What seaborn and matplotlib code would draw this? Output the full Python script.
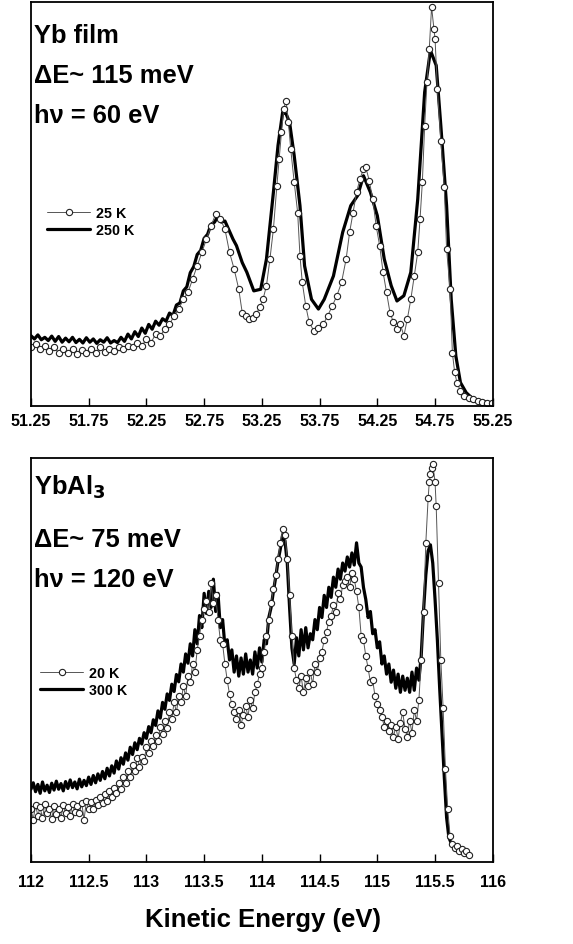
import numpy as np
import pandas as pd
import matplotlib
matplotlib.use("Agg")
import matplotlib.pyplot as plt
import seaborn as sns

# ---------------- data: Yb film (hv = 60 eV) ----------------
yb_e_250 = [51.25, 51.28, 51.31, 51.34, 51.37, 51.40, 51.43, 51.46, 51.49, 51.52,
            51.55, 51.58, 51.61, 51.64, 51.67, 51.70, 51.73, 51.76, 51.79, 51.82,
            51.85, 51.88, 51.91, 51.94, 51.97, 52.00, 52.03, 52.06, 52.09, 52.12,
            52.15, 52.18, 52.21, 52.24, 52.27, 52.30, 52.33, 52.36, 52.39, 52.42,
            52.45, 52.48, 52.51, 52.54, 52.57, 52.60, 52.63, 52.66, 52.69, 52.72,
            52.75, 52.78, 52.81, 52.84, 52.87, 52.90, 52.93,
            53.00, 53.03, 53.08,
            53.12, 53.18, 53.24, 53.29, 53.35, 53.39, 53.43, 53.46, 53.49, 53.53,
            53.58, 53.62, 53.68, 53.74, 53.79, 53.87, 53.95, 54.02, 54.08, 54.13,
            54.19, 54.25, 54.31, 54.37, 54.42, 54.48, 54.54, 54.60, 54.66, 54.71,
            54.76, 54.80, 54.85, 54.89, 54.93, 54.97, 55.02, 55.08, 55.24]
yb_i_250 = [17.4, 16.6, 17.6, 16.4, 17.0, 16.2, 17.3, 16.0, 17.2, 15.8,
            16.8, 15.9, 17.0, 15.7, 16.5, 15.6, 16.9, 15.8, 16.6, 15.5,
            16.4, 15.8, 16.9, 15.6, 16.2, 15.7, 17.0, 16.0, 17.8, 16.6,
            18.4, 17.2, 19.3, 18.0, 20.2, 19.0, 21.0, 20.0, 21.6, 21.0,
            23.0, 22.4, 25.0, 25.5, 28.5, 29.5, 33.0, 34.5, 37.5, 38.5,
            41.5, 42.5, 45.0, 45.5, 47.0, 45.5, 45.8,
            41.3, 39.7, 35.5,
            33.1, 28.5, 28.9, 36.4, 52.9, 64.5, 72.7, 72.3, 70.2, 62.0,
            49.6, 34.7, 26.4, 24.0, 26.4, 32.2, 43.0, 49.6, 52.1, 57.0,
            52.9, 47.1, 36.4, 29.8, 26.0, 27.3, 33.1, 51.2, 77.7, 88.0,
            84.3, 69.4, 49.6, 26.4, 12.4, 5.8, 3.3, 1.7, 0.7]

yb_e_25 = [51.25, 51.29, 51.33, 51.37, 51.41, 51.45, 51.49, 51.53, 51.57, 51.61,
           51.65, 51.69, 51.73, 51.77, 51.81, 51.85, 51.89, 51.93, 51.97, 52.01,
           52.05, 52.09, 52.13, 52.17, 52.21, 52.25, 52.29, 52.33, 52.37, 52.41,
           52.45, 52.49, 52.53, 52.57, 52.61, 52.65, 52.69, 52.73, 52.77, 52.81,
           52.85, 52.89, 52.93, 52.97, 53.01, 53.05, 53.08, 53.11, 53.14, 53.17,
           53.20, 53.23, 53.26, 53.29, 53.32, 53.35, 53.38, 53.40, 53.42, 53.44,
           53.46, 53.48, 53.50, 53.53, 53.56, 53.58, 53.60, 53.63, 53.66, 53.70,
           53.74, 53.78, 53.82, 53.86, 53.90, 53.94, 53.98, 54.01, 54.04, 54.07,
           54.10, 54.13, 54.15, 54.18, 54.21, 54.24, 54.27, 54.30, 54.33, 54.36,
           54.39, 54.42, 54.45, 54.48, 54.51, 54.54, 54.57, 54.60, 54.62, 54.64,
           54.66, 54.68, 54.70, 54.72, 54.74, 54.75, 54.77, 54.80, 54.83, 54.85,
           54.88, 54.90, 54.92, 54.94, 54.97, 55.00, 55.04, 55.08, 55.12, 55.16,
           55.20, 55.24]
yb_i_25 = [14.5, 15.3, 14.0, 14.9, 13.6, 14.5, 13.2, 14.2, 13.1, 14.0,
           12.8, 13.9, 13.2, 14.0, 13.1, 14.5, 13.4, 14.2, 13.6, 14.5,
           14.0, 14.9, 14.5, 15.7, 14.9, 16.5, 15.7, 17.8, 17.4, 19.0,
           20.2, 22.3, 24.0, 26.4, 28.1, 31.4, 34.7, 38.0, 41.3, 44.6,
           47.5, 46.3, 43.8, 38.0, 33.9, 28.9, 23.1, 22.3, 21.5, 21.9,
           22.7, 24.4, 26.4, 29.8, 36.4, 43.8, 54.5, 61.2, 67.8, 73.6,
           75.6, 70.2, 63.6, 55.4, 47.9, 37.2, 30.6, 24.8, 20.7, 18.6,
           19.4, 20.2, 22.3, 24.8, 27.3, 30.6, 36.4, 43.0, 47.9, 52.9,
           56.2, 58.7, 59.1, 55.8, 51.2, 44.6, 39.7, 33.1, 28.1, 23.1,
           20.7, 19.0, 20.2, 17.4, 21.5, 26.4, 32.2, 38.0, 46.3, 55.4,
           69.4, 80.2, 88.4, 98.8, 93.4, 90.9, 78.5, 65.7, 54.1, 38.8,
           28.9, 13.2, 8.3, 5.8, 3.7, 2.5, 2.1, 1.7, 1.2, 1.0,
           0.8, 0.7]

# ---------------- data: YbAl3 (hv = 120 eV) ----------------
al_e_300 = [112.00, 112.02, 112.04, 112.06, 112.08, 112.10, 112.12, 112.14, 112.16, 112.18,
            112.20, 112.22, 112.24, 112.26, 112.28, 112.30, 112.32, 112.34, 112.36, 112.38,
            112.40, 112.42, 112.44, 112.46, 112.48, 112.50, 112.52, 112.54, 112.56, 112.58,
            112.60, 112.62, 112.64, 112.66, 112.68, 112.70, 112.72, 112.74, 112.76, 112.78,
            112.80, 112.82, 112.84, 112.86, 112.88, 112.90, 112.92, 112.94, 112.96, 112.98,
            113.00, 113.02, 113.04, 113.06, 113.08, 113.10, 113.12, 113.14, 113.16, 113.18,
            113.20, 113.22, 113.24, 113.26, 113.28, 113.30, 113.32, 113.34, 113.36, 113.38,
            113.40, 113.42, 113.44, 113.46, 113.48, 113.50, 113.52, 113.54, 113.56, 113.58,
            113.60, 113.62, 113.64, 113.66, 113.68, 113.70, 113.72, 113.74, 113.76, 113.78,
            113.80, 113.82, 113.84, 113.86, 113.88, 113.90, 113.92, 113.94, 113.96, 113.98,
            114.00, 114.02, 114.04, 114.06, 114.08, 114.10, 114.12, 114.14, 114.16, 114.18,
            114.20, 114.22, 114.24, 114.26, 114.28, 114.30, 114.32, 114.34, 114.36, 114.38,
            114.40, 114.42, 114.44, 114.46, 114.48, 114.50, 114.52, 114.54, 114.56, 114.58,
            114.60, 114.62, 114.64, 114.66, 114.68, 114.70, 114.72, 114.74, 114.76, 114.78,
            114.80, 114.82, 114.84, 114.86, 114.88, 114.90, 114.92, 114.94, 114.96, 114.98,
            115.00, 115.02, 115.04, 115.06, 115.08, 115.10, 115.12, 115.14, 115.16, 115.18,
            115.20, 115.22, 115.24, 115.26, 115.28, 115.30, 115.32, 115.34, 115.36, 115.38,
            115.40, 115.42, 115.44, 115.46, 115.48, 115.50, 115.52, 115.54, 115.56, 115.58,
            115.60, 115.62, 115.65, 115.68, 115.71, 115.74, 115.77]
al_i_300 = [18.0, 19.6, 17.4, 19.2, 17.0, 19.8, 17.6, 19.0, 17.2, 19.5,
            17.8, 20.0, 18.0, 19.4, 17.6, 19.9, 18.2, 20.3, 18.4, 19.8,
            18.1, 20.5, 18.6, 20.2, 18.9, 21.0, 19.2, 21.4, 19.6, 21.8,
            20.2, 22.4, 20.6, 23.2, 21.3, 23.8, 22.0, 25.0, 23.0, 25.8,
            24.2, 27.0, 25.2, 28.4, 26.6, 29.5, 27.8, 30.6, 29.2, 32.0,
            30.6, 33.5, 32.0, 35.2, 33.8, 37.4, 35.6, 39.5, 37.8, 41.6,
            40.0, 44.0, 42.2, 46.4, 44.6, 49.0, 47.0, 51.5, 49.2, 54.0,
            51.0, 57.5, 54.0, 61.0, 58.0, 66.5, 61.5, 67.0, 63.0, 70.0,
            62.0, 66.5, 58.0, 60.0, 53.5, 55.0, 50.0, 52.5, 47.0, 51.0,
            46.0, 50.5, 46.5, 51.5, 47.0, 50.0, 46.5, 52.0, 48.0, 53.0,
            49.5, 55.0, 54.0, 60.5, 63.0, 67.0, 70.5, 74.5, 77.5, 81.0,
            79.5, 74.0, 63.0, 53.0, 49.0, 55.5, 51.0, 57.5, 52.5, 58.0,
            53.0, 56.5, 55.0, 60.0, 57.5, 63.0, 60.5, 66.0, 63.0, 68.0,
            65.5, 70.5, 68.0, 72.5, 70.0, 74.0, 72.0, 75.5, 73.0, 76.5,
            73.5, 79.0, 74.0, 73.0, 68.0, 65.0, 60.5, 62.0, 56.5, 57.5,
            53.0, 54.5, 49.0, 51.0, 46.5, 49.0, 44.5, 47.5, 43.0, 46.5,
            42.0, 46.0, 42.5, 45.5, 42.0, 47.0, 42.5, 48.0, 45.0, 51.0,
            62.0, 71.0, 77.0, 78.5, 74.0, 65.0, 55.0, 43.0, 32.0, 21.0,
            11.0, 6.0, 4.0, 3.0, 2.5, 2.2, 1.8]

al_e_20 = [112.00, 112.02, 112.04, 112.06, 112.08, 112.10, 112.12, 112.14, 112.16, 112.18,
           112.20, 112.22, 112.24, 112.26, 112.28, 112.30, 112.32, 112.34, 112.36, 112.38,
           112.40, 112.42, 112.44, 112.46, 112.48, 112.50, 112.52, 112.54, 112.56, 112.58,
           112.60, 112.62, 112.64, 112.66, 112.68, 112.70, 112.72, 112.74, 112.76, 112.78,
           112.80, 112.82, 112.84, 112.86, 112.88, 112.90, 112.92, 112.94, 112.96, 112.98,
           113.00, 113.02, 113.04, 113.06, 113.08, 113.10, 113.12, 113.14, 113.16, 113.18,
           113.20, 113.22, 113.24, 113.26, 113.28, 113.30, 113.32, 113.34, 113.36, 113.38,
           113.40, 113.42, 113.44, 113.46, 113.48, 113.50, 113.52, 113.54, 113.56, 113.58,
           113.60, 113.62, 113.64, 113.66, 113.68, 113.70, 113.72, 113.74, 113.76, 113.78,
           113.80, 113.82, 113.84, 113.86, 113.88, 113.90, 113.92, 113.94, 113.96, 113.98,
           114.00, 114.02, 114.04, 114.06, 114.08, 114.10, 114.12, 114.14, 114.16, 114.18,
           114.20, 114.22, 114.24, 114.26, 114.28, 114.30, 114.32, 114.34, 114.36, 114.38,
           114.40, 114.42, 114.44, 114.46, 114.48, 114.50, 114.52, 114.54, 114.56, 114.58,
           114.60, 114.62, 114.64, 114.66, 114.68, 114.70, 114.72, 114.74, 114.76, 114.78,
           114.80, 114.82, 114.84, 114.86, 114.88, 114.90, 114.92, 114.94, 114.96, 114.98,
           115.00, 115.02, 115.04, 115.06, 115.08, 115.10, 115.12, 115.14, 115.16, 115.18,
           115.20, 115.22, 115.24, 115.26, 115.28, 115.30, 115.32, 115.34, 115.36, 115.38,
           115.40, 115.42, 115.44, 115.45, 115.46, 115.47, 115.48, 115.50, 115.51, 115.53,
           115.55, 115.57, 115.59, 115.61, 115.63, 115.65, 115.67, 115.69, 115.71, 115.73,
           115.75, 115.77, 115.79]
al_i_20 = [13.0, 10.5, 14.0, 11.5, 13.5, 10.8, 14.3, 12.0, 13.0, 10.6,
           13.8, 11.8, 13.2, 11.0, 14.0, 12.2, 13.6, 11.5, 14.4, 12.4,
           13.8, 12.0, 14.6, 10.5, 15.0, 13.2, 14.8, 13.0, 15.4, 14.0,
           16.0, 14.5, 16.8, 15.2, 17.5, 16.0, 18.4, 17.0, 19.6, 18.0,
           21.0, 19.5, 22.4, 21.0, 24.0, 22.5, 25.8, 23.6, 26.0, 25.0,
           28.5, 27.0, 30.0, 28.6, 31.5, 30.0, 33.4, 31.8, 35.0, 33.2,
           37.0, 35.5, 39.6, 37.0, 41.0, 39.5, 43.5, 41.0, 46.0, 44.5,
           49.0, 47.0, 52.5, 56.0, 60.0, 62.5, 64.5, 62.0, 69.0, 64.0,
           66.0, 60.0, 55.0, 54.0, 49.0, 45.0, 41.5, 39.0, 37.0, 35.5,
           37.5, 34.0, 36.5, 38.5, 36.0, 40.0, 38.0, 42.0, 44.0, 46.5,
           48.0, 52.0, 56.0, 60.0, 64.0, 67.5, 71.0, 75.0, 79.0, 82.5,
           81.0, 75.0, 66.0, 56.0, 48.0, 45.0, 43.0, 46.0, 42.0, 45.5,
           43.5, 47.0, 44.0, 49.0, 47.0, 50.5, 52.0, 55.0, 57.0, 59.5,
           61.0, 63.5, 62.0, 66.5, 65.0, 68.5, 69.5, 70.5, 68.0, 71.5,
           70.0, 67.0, 63.0, 56.0, 55.0, 51.0, 48.0, 44.5, 45.0, 41.0,
           39.0, 37.5, 36.0, 33.5, 35.0, 32.5, 34.0, 31.0, 33.5, 30.5,
           34.5, 37.0, 33.0, 31.0, 35.0, 32.0, 37.5, 35.0, 40.0, 50.0,
           62.0, 79.0, 90.0, 94.0, 96.0, 97.5, 98.5, 94.0, 88.0, 69.0,
           50.0, 38.0, 23.0, 13.0, 6.5, 4.5, 3.5, 4.0, 2.8, 3.3,
           2.3, 2.6, 1.8]

yb_ticks = [51.25, 51.75, 52.25, 52.75, 53.25, 53.75, 54.25, 54.75, 55.25]
al_ticks = [112, 112.5, 113, 113.5, 114, 114.5, 115, 115.5, 116]

# ---------------- styling ----------------
sns.set_style("white")
plt.rcParams['font.family'] = ['Liberation Sans', 'DejaVu Sans']
plt.rcParams['text.color'] = 'black'
plt.rcParams['xtick.color'] = 'black'

fig = plt.figure(figsize=(5.73, 9.45), dpi=100)
ax1 = fig.add_axes([0.054, 0.5693, 0.806, 0.4275])
ax2 = fig.add_axes([0.054, 0.0868, 0.806, 0.4275])

def draw(ax, e_hot, i_hot, e_cold, i_cold, lab_hot, lab_cold):
    df_hot = pd.DataFrame({"E": e_hot, "I": i_hot})
    df_cold = pd.DataFrame({"E": e_cold, "I": i_cold})
    sns.lineplot(data=df_hot, x="E", y="I", ax=ax, color="black", lw=2.3,
                 estimator=None, sort=False, label=lab_hot, legend=False)
    sns.lineplot(data=df_cold, x="E", y="I", ax=ax, color="#555555", lw=0.7,
                 marker="o", markersize=4.5, markerfacecolor="white",
                 markeredgecolor="#222222", markeredgewidth=0.8,
                 estimator=None, sort=False, label=lab_cold, legend=False)
    lines = ax.get_lines()
    return lines[0], lines[1]

h1, c1 = draw(ax1, yb_e_250, yb_i_250, yb_e_25, yb_i_25, "250 K", "25 K")
h2, c2 = draw(ax2, al_e_300, al_i_300, al_e_20, al_i_20, "300 K", "20 K")

for ax, ticks, pad in [(ax1, yb_ticks, 5), (ax2, al_ticks, 9)]:
    ax.set_xlim(ticks[0], ticks[-1])
    ax.set_ylim(0, 100)
    ax.set_xticks(ticks)
    ax.set_xticklabels([f"{t:g}" for t in ticks], fontweight="bold", fontsize=11.5)
    ax.set_yticks([])
    ax.tick_params(axis="x", direction="in", length=6, width=1, pad=pad,
                   bottom=True, top=False, colors="black")
    ax.set_xlabel("")
    ax.set_ylabel("")
    for s in ax.spines.values():
        s.set_color("black")
        s.set_linewidth(1.3)

leg_kw = dict(frameon=False, loc="center left", borderaxespad=0, borderpad=0,
              handlelength=3.0, handletextpad=0.4, labelspacing=0.25, numpoints=1,
              prop=dict(family=['Liberation Sans', 'DejaVu Sans'], weight='bold', size=10.3))
ax1.legend([c1, h1], ["25 K", "250 K"], bbox_to_anchor=(0.035, 0.457), **leg_kw)
ax2.legend([c2, h2], ["20 K", "300 K"], bbox_to_anchor=(0.02, 0.447), **leg_kw)

tkw = dict(fontsize=18.4, fontweight="bold", va="baseline", ha="left", color="black")
ax1.text(0.006, 0.901, "Yb film", transform=ax1.transAxes, **tkw)
ax1.text(0.006, 0.802, "\u0394E~ 115 meV", transform=ax1.transAxes, **tkw)
ax1.text(0.006, 0.703, "h\u03bd = 60 eV", transform=ax1.transAxes, **tkw)
ax2.text(0.006, 0.911, "YbAl$_\\mathbf{3}$", transform=ax2.transAxes, **tkw)
ax2.text(0.006, 0.782, "\u0394E~ 75 meV", transform=ax2.transAxes, **tkw)
ax2.text(0.006, 0.683, "h\u03bd = 120 eV", transform=ax2.transAxes, **tkw)

fig.text(0.459, 0.019, "Kinetic Energy (eV)", ha="center", va="baseline",
         fontweight="bold", fontsize=18.5, color="black")

fig.savefig("out.png", dpi=100)
